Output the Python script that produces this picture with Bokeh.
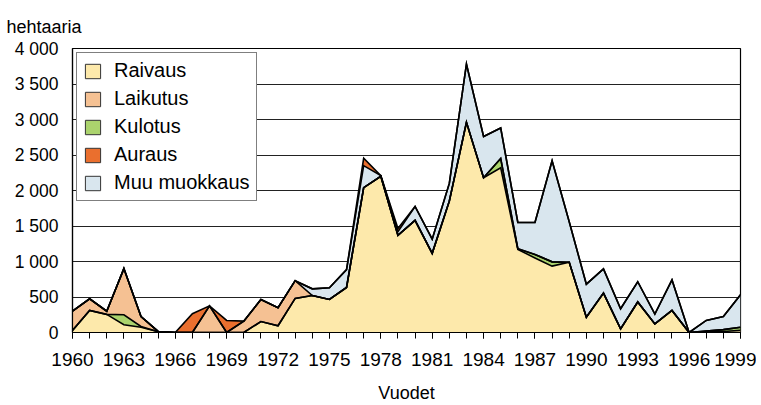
import numpy as np
import pandas as pd
from bokeh.plotting import figure
from bokeh.models import (ColumnDataSource, FixedTicker, Legend, LegendItem, Title,
                          Range1d)
from bokeh.embed import file_html
from bokeh.resources import INLINE

years = list(range(1960, 2000))
raivaus = [30, 310, 255, 110, 75, 10, 0, 0, 0, 0,
           0, 155, 95, 480, 520, 465, 635, 2040, 2200, 1370,
           1580, 1115, 1850, 2960, 2180, 2320, 1170, 1050, 935, 990,
           215, 555, 50, 430, 120, 310, 0, 15, 15, 30]
kulotus = [0, 0, 0, 140, 10, 0, 0, 0, 0, 0,
           0, 0, 0, 0, 0, 0, 0, 0, 0, 0,
           0, 0, 0, 0, 0, 130, 10, 50, 60, 0,
           0, 0, 0, 0, 0, 0, 0, 5, 25, 45]
laikutus = [270, 165, 45, 650, 140, 5, 0, 0, 375, 0,
            160, 310, 255, 250, 0, 0, 0, 0, 0, 0,
            0, 0, 0, 0, 0, 0, 0, 0, 0, 0,
            0, 0, 0, 0, 0, 0, 0, 0, 0, 0]
muu = [0, 0, 0, 0, 0, 0, 0, 0, 0, 0,
       0, 0, 0, 0, 95, 165, 250, 310, 10, 50,
       195, 200, 250, 820, 580, 430, 370, 450, 1425, 570,
       465, 340, 285, 285, 140, 430, 0, 150, 185, 455]
auraus = [0, 0, 0, 0, 0, 0, 0, 265, 0, 170,
          0, 0, 0, 0, 0, 0, 0, 105, 0, 45,
          0, 0, 0, 0, 0, 0, 0, 0, 0, 0,
          0, 0, 0, 0, 0, 0, 0, 0, 0, 0]

series_names = ["Raivaus", "Laikutus", "Kulotus", "Auraus", "Muu muokkaus"]
series_colors = ["#FDE9AB", "#F5C193", "#ABD36D", "#EA6F2E", "#D9E6EE"]
stack_order = ["Raivaus", "Kulotus", "Laikutus", "Muu muokkaus", "Auraus"]
y_ticks = [0, 500, 1000, 1500, 2000, 2500, 3000, 3500, 4000]
y_tick_labels = ["0", "500", "1 000", "1 500", "2 000", "2 500", "3 000", "3 500", "4 000"]
x_major = list(range(1960, 2000, 3))

data = {"year": years, "Raivaus": raivaus, "Kulotus": kulotus,
        "Laikutus": laikutus, "Muu muokkaus": muu, "Auraus": auraus}
df = pd.DataFrame(data)
source = ColumnDataSource(df)
color_of = dict(zip(series_names, series_colors))

FONT = "'Liberation Sans', Arial, sans-serif"

p = figure(width=756, height=405, output_backend="svg", toolbar_location=None,
           x_range=Range1d(1960, 1999), y_range=Range1d(0, 4000),
           min_border_left=72, min_border_right=16, min_border_top=48,
           min_border_bottom=72)
p.background_fill_color = "white"
p.border_fill_color = "white"
p.outline_line_color = "black"
p.outline_line_width = 1.2

p.title = Title(text="hehtaaria", align="left", offset=-66,
                text_font=FONT, text_font_size="18px",
                text_font_style="normal", text_color="black",
                standoff=24)

p.varea_stack(stackers=stack_order, x="year", source=source,
              color=[color_of[n] for n in stack_order])

cum = np.zeros(len(years))
for n in stack_order:
    cum = cum + np.array(df[n], dtype=float)
    p.line(x=years, y=list(cum), line_color="black", line_width=1.6,
           line_join="miter")

# legend-only glyphs, placed outside the visible range
items = []
for n in series_names:
    r = p.quad(left=[2100], right=[2101], top=[9000], bottom=[8000],
               fill_color=color_of[n], line_color="#333333", line_width=1)
    items.append(LegendItem(label=n, renderers=[r]))
legend = Legend(items=items, location="top_left")
legend.margin = 4
legend.padding = 6
legend.spacing = 5
legend.glyph_width = 19
legend.glyph_height = 18
legend.label_height = 18
legend.label_standoff = 12
legend.label_text_font = FONT
legend.label_text_font_size = "20px"
legend.label_text_color = "black"
legend.border_line_color = "black"
legend.border_line_width = 1.3
legend.background_fill_alpha = 1
p.add_layout(legend, "center")

# grid
p.xgrid.visible = False
p.ygrid.ticker = FixedTicker(ticks=y_ticks)
p.ygrid.grid_line_color = "#222222"
p.ygrid.grid_line_width = 1.2

# x axis
p.xaxis.ticker = FixedTicker(ticks=x_major, minor_ticks=years)
p.xaxis.major_tick_in = 0
p.xaxis.major_tick_out = 6
p.xaxis.minor_tick_in = 0
p.xaxis.minor_tick_out = 6
p.xaxis.major_tick_line_color = "black"
p.xaxis.minor_tick_line_color = "black"
p.xaxis.axis_line_color = "black"
p.xaxis.axis_line_width = 1.2
p.xaxis.major_label_text_font = FONT
p.xaxis.major_label_text_font_size = "19px"
p.xaxis.major_label_text_color = "black"
p.xaxis.major_label_standoff = 14
p.xaxis.axis_label = "Vuodet"
p.xaxis.axis_label_text_font = FONT
p.xaxis.axis_label_text_font_size = "18px"
p.xaxis.axis_label_text_font_style = "normal"
p.xaxis.axis_label_text_color = "black"
p.xaxis.axis_label_standoff = 14

# y axis
p.yaxis.ticker = FixedTicker(ticks=y_ticks)
p.yaxis.major_label_overrides = dict(zip(y_ticks, y_tick_labels))
p.yaxis.major_tick_in = 0
p.yaxis.major_tick_out = 0
p.yaxis.minor_tick_line_color = None
p.yaxis.axis_line_color = "black"
p.yaxis.axis_line_width = 1.2
p.yaxis.major_label_text_font = FONT
p.yaxis.major_label_text_font_size = "17.5px"
p.yaxis.major_label_text_color = "black"
p.yaxis.major_label_standoff = 14

open("out.html", "w").write(file_html(p, INLINE))
